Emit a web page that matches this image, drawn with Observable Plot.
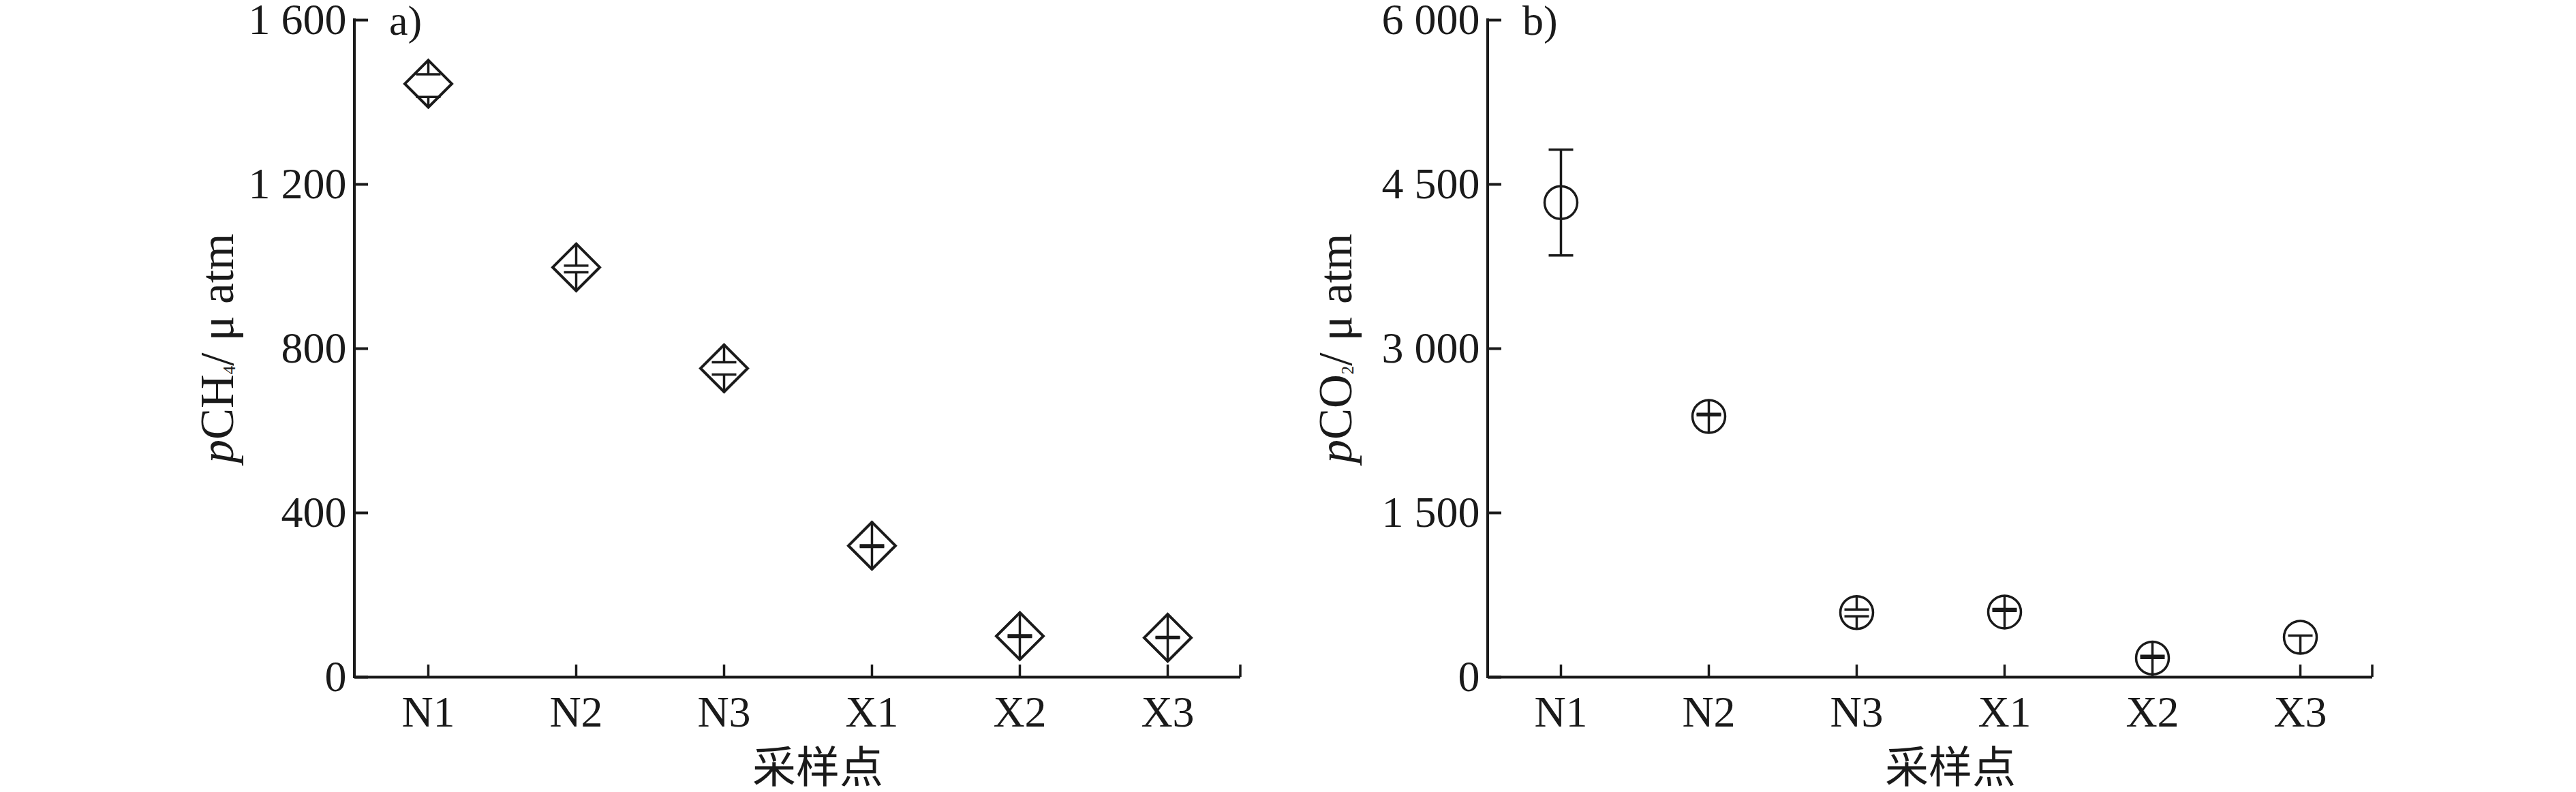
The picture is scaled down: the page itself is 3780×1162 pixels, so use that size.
<!DOCTYPE html>
<html><head><meta charset="utf-8">
<script src="https://cdn.jsdelivr.net/npm/d3@7"></script>
<script src="https://cdn.jsdelivr.net/npm/@observablehq/plot@0.6"></script>
<style>
html,body{margin:0;padding:0;background:#fff;}
#wrap{position:relative;width:3780px;height:1162px;overflow:hidden;background:#fff;}
#wrap svg{position:absolute;top:0;}
</style></head><body><div id="wrap"></div>
<script>
// ---- data ----
const sites = ["N1", "N2", "N3", "X1", "X2", "X3"];
// pCH4 (μatm): symbol centre and error-bar caps
const ch4Mean = [1445, 998, 752, 320, 100, 96];
const ch4Hi   = [1468, 1002, 767, 321, 102, 98];
const ch4Lo   = [1413, 986, 737, 317, 98, 95];
const ch4Ticks = [0, 400, 800, 1200, 1600];
// pCO2 (μatm)
const co2Mean = [4334, 2381, 590, 595, 174, 364];
const co2Hi   = [4818, 2404, 618, 622, 194, null];
const co2Lo   = [3851, 2392, 556, 606, 176, 380];
const co2Ticks = [0, 1500, 3000, 4500, 6000];

// ---- styling ----
const W = 1890, H = 1162, MT = 29, MB = 169;
const INK = "#1a1a1a";
const SERIF = "'Liberation Serif','Times New Roman',serif";
const CJK = "'Noto Sans CJK SC','Noto Sans CJK JP',sans-serif";
const fmt = d => d3.format(",")(d).replace(/,/g, " ");

const diamondSym = {draw(ctx, size) {
  const r = Math.sqrt(size / Math.PI);
  ctx.moveTo(0, -r); ctx.lineTo(r, 0); ctx.lineTo(0, r); ctx.lineTo(-r, 0); ctx.closePath();
}};
const capSym = {draw(ctx, size) {
  const r = Math.sqrt(size / Math.PI);
  ctx.moveTo(-r, 0); ctx.lineTo(r, 0);
}};

function buildRows(mean, hi, lo) {
  return sites.map((s, i) => ({site: s, mean: mean[i], hi: hi[i], lo: lo[i]}));
}

function panel({rows, yMax, yTicks, symbol, rSym, symStroke, mL, mR, left, titleX, main, sub, tag}) {
  const plotW = W - mL - mR, plotH = H - MT - MB;
  const R = rSym * yMax / plotH; // symbol half-height in data units
  const segs = [], caps = [];
  for (const d of rows) {
    const top = d.mean + R, bot = d.mean - R;
    const outside = (d.hi != null && d.hi > top) || (d.lo != null && d.lo < bot);
    if (outside) segs.push({site: d.site, y1: d.lo, y2: d.hi});
    else {
      if (d.hi != null) segs.push({site: d.site, y1: d.hi, y2: top});
      if (d.lo != null) segs.push({site: d.site, y1: bot, y2: d.lo});
    }
    if (d.hi != null) caps.push({site: d.site, y: d.hi});
    if (d.lo != null) caps.push({site: d.site, y: d.lo});
  }
  const chart = Plot.plot({
    width: W, height: H,
    marginLeft: mL, marginRight: mR, marginTop: MT, marginBottom: MB,
    style: {fontFamily: SERIF, color: INK, background: "transparent", overflow: "visible"},
    x: {type: "point", domain: sites, padding: 0.482},
    y: {domain: [0, yMax]},
    marks: [
      Plot.ruleY([0], {stroke: INK, strokeWidth: 4}),
      Plot.tickY(yTicks, {y: d => d, insetRight: plotW - 20, stroke: INK, strokeWidth: 4}),
      Plot.tickX(sites, {x: d => d, insetTop: plotH - 18, stroke: INK, strokeWidth: 3.5}),
      Plot.axisY(yTicks, {tickFormat: fmt, tickSize: 0, tickPadding: 12, fontSize: 64, label: null}),
      Plot.axisX({tickSize: 0, tickPadding: 27, fontSize: 64, label: null}),
      Plot.dot(rows, {x: "site", y: "mean", symbol, r: rSym, stroke: INK, strokeWidth: symStroke, fill: "white"}),
      Plot.ruleX(segs, {x: "site", y1: "y1", y2: "y2", stroke: INK, strokeWidth: 3.5}),
      Plot.dot(caps, {x: "site", y: "y", symbol: capSym, r: 18, stroke: INK, strokeWidth: 3.5, fill: "none"})
    ]
  });
  const svg = d3.select(chart);
  svg.style("left", left + "px");
  // left axis line
  svg.append("line")
    .attr("x1", mL).attr("x2", mL).attr("y1", MT).attr("y2", H - MB)
    .attr("stroke", INK).attr("stroke-width", 4).attr("stroke-linecap", "square");
  // closing tick at the right end of the x axis
  svg.append("line")
    .attr("x1", W - mR).attr("x2", W - mR).attr("y1", H - MB - 18).attr("y2", H - MB)
    .attr("stroke", INK).attr("stroke-width", 3.5);
  // y title
  const t = svg.append("text")
    .attr("transform", `translate(${titleX},${(MT + H - MB) / 2}) rotate(-90)`)
    .attr("text-anchor", "middle").attr("fill", INK)
    .style("font-family", SERIF).style("font-size", "69px");
  t.append("tspan").attr("font-style", "italic").text("p");
  t.append("tspan").text(main);
  t.append("tspan").style("font-size", "25px").attr("dy", 3).text(sub);
  t.append("tspan").attr("dy", -3).text("/ μ atm");
  // panel tag
  svg.append("text").attr("x", mL + 51).attr("y", 51).attr("fill", INK)
    .attr("text-anchor", "start")
    .style("font-family", SERIF).style("font-size", "62px").text(tag);
  // x title
  svg.append("text").attr("x", mL + plotW / 2 + 30).attr("y", 1148)
    .attr("text-anchor", "middle").attr("fill", INK)
    .style("font-family", CJK).style("font-size", "64px").text("采样点");
  return chart;
}

const wrap = document.getElementById("wrap");
wrap.appendChild(panel({
  rows: buildRows(ch4Mean, ch4Hi, ch4Lo), yMax: 1600, yTicks: ch4Ticks,
  symbol: diamondSym, rSym: 34.5, symStroke: 4,
  mL: 520, mR: 70, left: 0, titleX: 342, main: "CH", sub: "4", tag: "a)"
}));
wrap.appendChild(panel({
  rows: buildRows(co2Mean, co2Hi, co2Lo), yMax: 6000, yTicks: co2Ticks,
  symbol: "circle", rSym: 24, symStroke: 3.5,
  mL: 293, mR: 299, left: 1890, titleX: 93, main: "CO", sub: "2", tag: "b)"
}));
</script></body></html>
